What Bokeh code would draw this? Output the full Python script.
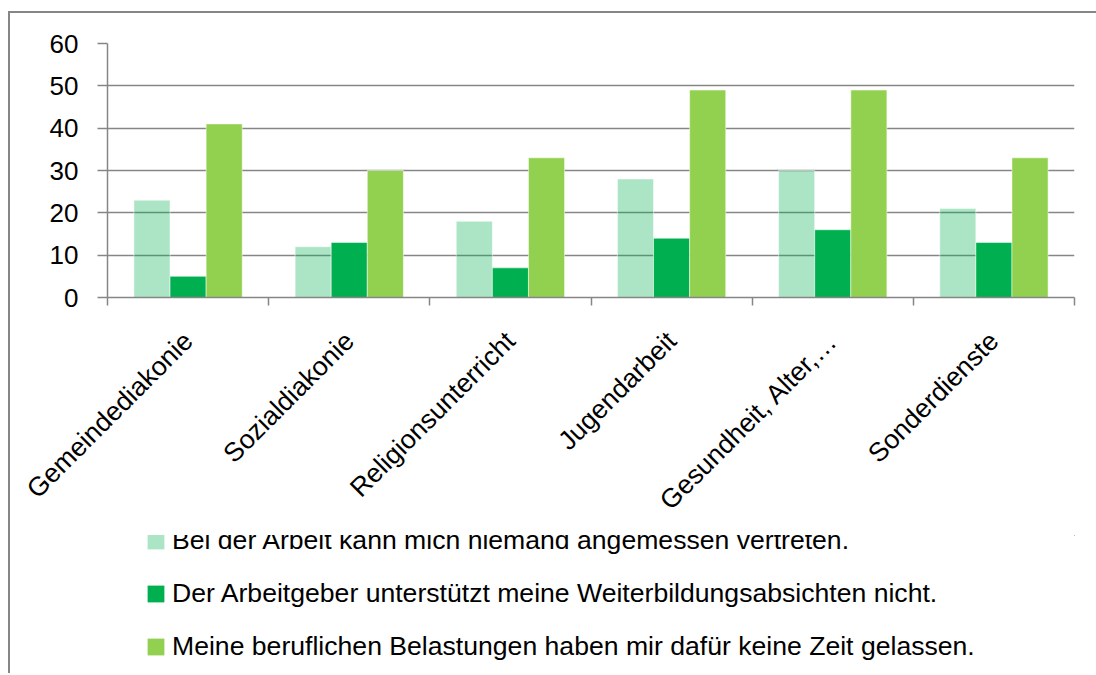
from math import pi
import numpy as np
from bokeh.plotting import figure
from bokeh.layouts import column
from bokeh.models import (Range1d, LinearAxis, FixedTicker, Legend, LegendItem,
                          ColumnDataSource, CustomLabelingPolicy)
from bokeh.embed import file_html
from bokeh.resources import INLINE

categories = ["Gemeindediakonie", "Sozialdiakonie", "Religionsunterricht",
              "Jugendarbeit", "Gesundheit, Alter,…", "Sonderdienste"]
vertretung = [23, 12, 18, 28, 30, 21]
arbeitgeber = [5, 13, 7, 14, 16, 13]
belastung = [41, 30, 33, 49, 49, 33]
series_names = ["Bei der Arbeit kann mich niemand angemessen vertreten.",
                "Der Arbeitgeber unterstützt meine Weiterbildungsabsichten nicht.",
                "Meine beruflichen Belastungen haben mir dafür keine Zeit gelassen."]
y_ticks = [0, 10, 20, 30, 40, 50, 60]
colors = ["#00B050", "#00B050", "#92D050"]
alphas = [0.33, 1.0, 1.0]

FONT = "Liberation Sans"
GRAY = "#868686"
FS = "26px"
FS_L = "26.6px"

n = len(categories)
centers = np.arange(n) + 0.5
w = 0.224
src = ColumnDataSource(dict(xa=centers - w, xb=centers, xc=centers + w,
                            a=vertretung, b=arbeitgeber, c=belastung))

p = figure(width=1086, height=522, output_backend="svg", toolbar_location=None,
           x_range=Range1d(0, n), y_range=Range1d(0, 60),
           x_axis_location=None, y_axis_location=None,
           min_border_left=97, min_border_top=30, min_border_right=22,
           min_border_bottom=238)
p.outline_line_color = None
p.background_fill_color = "white"

# axis with tick marks at the category boundaries (no labels)
tick_axis = LinearAxis(ticker=FixedTicker(ticks=list(range(n + 1))),
                       major_tick_out=8, major_tick_in=0, minor_tick_out=0, minor_tick_in=0,
                       major_label_policy=CustomLabelingPolicy(
                           code="for (const i of indices) { indices.unset(i) } return indices"),
                       major_label_standoff=0, major_label_text_font_size="1px",
                       axis_line_color=GRAY, axis_line_width=1.5,
                       major_tick_line_color=GRAY, major_tick_line_width=1.5)
p.add_layout(tick_axis, "below")
# axis carrying the category names at the category centers
cat_axis = LinearAxis(ticker=FixedTicker(ticks=list(centers)),
                      major_label_overrides={float(c): lab for c, lab in zip(centers, categories)},
                      major_tick_out=0, major_tick_in=0, minor_tick_out=0, minor_tick_in=0,
                      axis_line_color=None,
                      major_label_orientation=pi / 4, major_label_standoff=27,
                      major_label_text_font=FONT, major_label_text_font_size=FS_L,
                      major_label_text_color="black")
p.add_layout(cat_axis, "below")

yaxis = LinearAxis(ticker=FixedTicker(ticks=y_ticks), major_tick_out=10, major_tick_in=0,
                   minor_tick_out=0, minor_tick_in=0, major_label_standoff=19,
                   axis_line_color=GRAY, axis_line_width=1.5,
                   major_tick_line_color=GRAY, major_tick_line_width=1.5,
                   major_label_text_font=FONT, major_label_text_font_size=FS,
                   major_label_text_color="black")
p.add_layout(yaxis, "left")
p.ygrid.ticker = FixedTicker(ticks=y_ticks)
p.ygrid.grid_line_color = GRAY
p.ygrid.grid_line_width = 1.5
p.xgrid.grid_line_color = None

for xcol, ycol, col, al in zip(["xa", "xb", "xc"], ["a", "b", "c"], colors, alphas):
    p.vbar(x=xcol, top=ycol, width=w, source=src,
           fill_color=col, fill_alpha=al, line_color="white", line_alpha=0.5)

# legend panel below the chart (its bars lie outside its visible ranges;
# they only provide the legend swatches)
q = figure(width=1086, height=138, output_backend="svg", toolbar_location=None,
           x_range=Range1d(-3 * n, -2 * n), y_range=Range1d(-200, -100),
           x_axis_location=None, y_axis_location=None, min_border=0)
q.outline_line_color = None
q.xgrid.grid_line_color = None
q.ygrid.grid_line_color = None
items = []
for name, xcol, ycol, col, al in zip(series_names, ["xa", "xb", "xc"], ["a", "b", "c"],
                                     colors, alphas):
    r = q.vbar(x=xcol, top=ycol, width=w, source=src,
               fill_color=col, fill_alpha=al, line_color=None)
    items.append(LegendItem(label=name, renderers=[r], index=0))
legend = Legend(items=items, location=(38, 11), orientation="vertical",
                glyph_width=21, glyph_height=21, label_standoff=6,
                label_text_font=FONT, label_text_font_size=FS_L,
                label_text_color="black", label_height=30, spacing=22,
                padding=0, margin=0, border_line_color=None,
                background_fill_alpha=0)
q.add_layout(legend, "center")

layout = column(p, q, spacing=0)
layout.styles = {"border-left": f"2px solid {GRAY}", "border-top": f"2px solid {GRAY}",
                 "margin-left": "8px", "margin-top": "11px"}

open("out.html", "w").write(file_html(layout, INLINE))
